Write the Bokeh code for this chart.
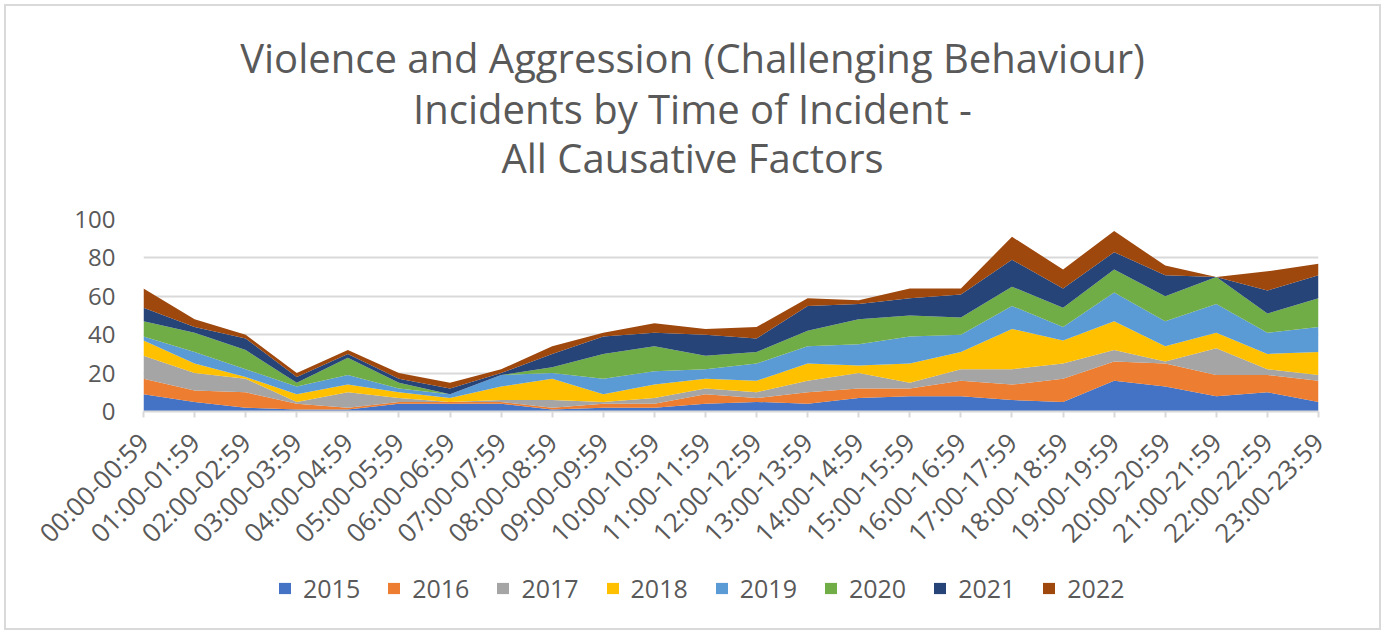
import math
from bokeh.plotting import figure
from bokeh.layouts import column
from bokeh.models import ColumnDataSource, Legend, LegendItem, FixedTicker
from bokeh.core.properties import value
from bokeh.embed import file_html
from bokeh.resources import INLINE

categories = ["00:00-00:59", "01:00-01:59", "02:00-02:59", "03:00-03:59", "04:00-04:59",
              "05:00-05:59", "06:00-06:59", "07:00-07:59", "08:00-08:59", "09:00-09:59",
              "10:00-10:59", "11:00-11:59", "12:00-12:59", "13:00-13:59", "14:00-14:59",
              "15:00-15:59", "16:00-16:59", "17:00-17:59", "18:00-18:59", "19:00-19:59",
              "20:00-20:59", "21:00-21:59", "22:00-22:59", "23:00-23:59"]
years = ["2015", "2016", "2017", "2018", "2019", "2020", "2021", "2022"]

y2015 = [9, 5, 2, 1, 1, 4, 4, 4, 1, 2, 2, 4, 5, 4, 7, 8, 8, 6, 5, 16, 13, 8, 10, 5]
y2016 = [8, 6, 8, 3, 1, 1, 1, 1, 1, 2, 2, 5, 2, 6, 5, 4, 8, 8, 12, 10, 12, 11, 9, 11]
y2017 = [12, 9, 7, 1, 8, 2, 0, 1, 4, 1, 3, 3, 3, 6, 8, 3, 6, 8, 8, 6, 1, 14, 3, 3]
y2018 = [8, 5, 1, 4, 4, 3, 2, 7, 11, 4, 7, 5, 6, 9, 4, 10, 9, 21, 12, 15, 8, 8, 8, 12]
y2019 = [2, 6, 4, 4, 5, 2, 2, 6, 3, 8, 7, 5, 9, 9, 11, 14, 9, 12, 7, 15, 13, 15, 11, 13]
y2020 = [8, 10, 10, 2, 9, 3, 0, 0, 3, 13, 13, 7, 6, 8, 13, 11, 9, 10, 10, 12, 13, 14, 10, 15]
y2021 = [7, 3, 6, 3, 2, 2, 3, 1, 7, 9, 7, 11, 7, 13, 8, 9, 12, 14, 10, 9, 11, 0, 12, 12]
y2022 = [10, 4, 2, 2, 2, 3, 3, 2, 4, 2, 5, 3, 6, 4, 2, 5, 3, 12, 10, 11, 5, 0, 10, 6]

colors = ["#4472C4", "#ED7D31", "#A5A5A5", "#FFC000", "#5B9BD5", "#70AD47", "#264478", "#9E480E"]

title_lines = ["Violence and Aggression (Challenging Behaviour)",
               "Incidents by Time of Incident -",
               "All Causative Factors"]

series = [y2015, y2016, y2017, y2018, y2019, y2020, y2021, y2022]
data = {"x": list(range(len(categories)))}
for yr, vals in zip(years, series):
    data[yr] = vals
source = ColumnDataSource(data)

FONT = "Open Sans"
GRAY = "#595959"
W = 1373
BL, BR = 137, 61          # frame borders shared by all stacked figures

# ---- title block ----
TH = 197
tfig = figure(width=W, height=TH, output_backend="svg", toolbar_location=None,
              x_range=(BL, W - BR), y_range=(0, TH), min_border=0,
              min_border_left=BL, min_border_right=BR, min_border_top=0, min_border_bottom=0,
              x_axis_location=None, y_axis_location=None)
tfig.grid.visible = False
tfig.outline_line_color = None
tsrc = ColumnDataSource(dict(x=[686, 686, 686], y=[TH - 51, TH - 102, TH - 151], text=title_lines))
tfig.text(x="x", y="y", text="text", source=tsrc, text_font=value(FONT),
          text_font_size=value("40px"), text_color=GRAY, text_align="center",
          text_baseline="middle")

# ---- main chart ----
p = figure(width=W, height=364, output_backend="svg", toolbar_location=None,
           x_range=(0, len(categories) - 1), y_range=(0, 100),
           min_border_left=BL, min_border_right=BR, min_border_top=16, min_border_bottom=156)
p.outline_line_color = None
renderers = p.varea_stack(stackers=years, x="x", color=colors, source=source)

p.yaxis.ticker = FixedTicker(ticks=[0, 20, 40, 60, 80, 100])
p.yaxis.axis_line_color = None
p.yaxis.major_tick_line_color = None
p.yaxis.minor_tick_line_color = None
p.yaxis.major_label_text_font = FONT
p.yaxis.major_label_text_font_size = "24px"
p.yaxis.major_label_text_color = GRAY
p.yaxis.major_label_standoff = 22

p.xaxis.ticker = FixedTicker(ticks=list(range(len(categories))))
p.xaxis.major_label_overrides = {i: c for i, c in enumerate(categories)}
p.xaxis.major_label_orientation = math.pi / 4
p.xaxis.major_label_text_font = FONT
p.xaxis.major_label_text_font_size = "26px"
p.xaxis.major_label_text_color = GRAY
p.xaxis.axis_line_color = "#d9d9d9"
p.xaxis.axis_line_width = 2
p.xaxis.major_tick_line_color = "#d9d9d9"
p.xaxis.major_tick_line_width = 2
p.xaxis.major_tick_in = 0
p.xaxis.major_tick_out = 6
p.xaxis.minor_tick_line_color = None
p.xaxis.major_label_standoff = 20

p.xgrid.grid_line_color = None
p.ygrid.grid_line_color = "#d9d9d9"
p.ygrid.grid_line_width = 2

# ---- legend block ----
LH = 61
lfig = figure(width=W, height=LH, output_backend="svg", toolbar_location=None,
              x_range=(0, 1), y_range=(1000, 1001), min_border=0,
              min_border_left=BL, min_border_right=BR, min_border_top=0, min_border_bottom=0,
              x_axis_location=None, y_axis_location=None)
lfig.grid.visible = False
lfig.outline_line_color = None
lrenderers = lfig.varea_stack(stackers=years, x="x", color=colors, source=source)
items = [LegendItem(label=yr, renderers=[r]) for yr, r in zip(years, lrenderers)]
legend = Legend(items=items, orientation="horizontal", location=(134, 23),
                label_text_font=FONT, label_text_font_size="25px", label_text_color=GRAY,
                glyph_width=15, glyph_height=14, label_standoff=11, spacing=26,
                border_line_color=None, background_fill_alpha=0, margin=0, padding=0)
lfig.add_layout(legend, "center")

layout = column(tfig, p, lfig, spacing=0)
layout.styles = {"border": "2px solid #d9d9d9", "margin": "4px 0 0 4px"}

open("out.html", "w").write(file_html(layout, INLINE))
